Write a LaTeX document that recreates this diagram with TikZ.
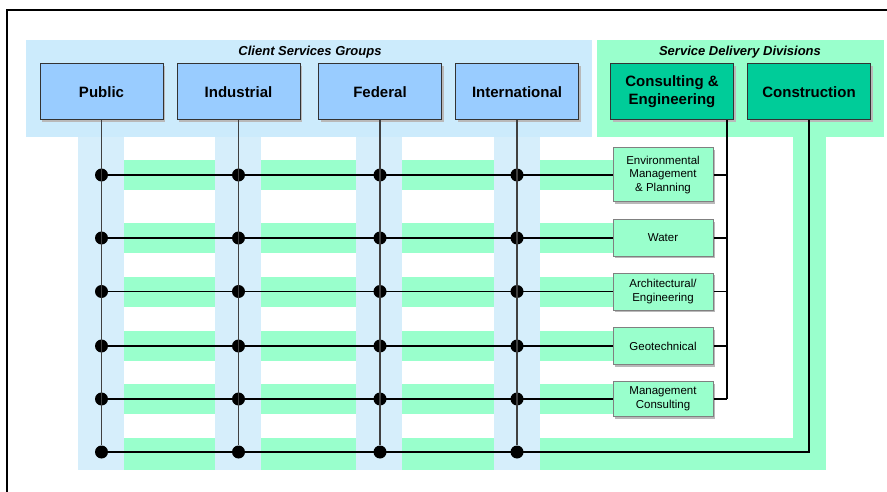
\documentclass[tikz,border=0pt]{standalone}
\usepackage{fontspec}
\setmainfont{Liberation Sans}
\usetikzlibrary{shadows}
\definecolor{panelblue}{HTML}{CCEBFC}
\definecolor{boxblue}{HTML}{99CCFF}
\definecolor{colblue}{HTML}{D6EEFB}
\definecolor{panelgreen}{HTML}{99FFCC}
\definecolor{divgreen}{HTML}{00CC99}
\tikzset{
  shade/.style={drop shadow={shadow xshift=2pt,shadow yshift=-2pt,fill=gray!55,opacity=1}},
  grpbox/.style={draw=black!80,fill=boxblue,line width=1pt,minimum width=123pt,minimum height=56pt,
    font=\fontsize{15}{18}\selectfont\bfseries,align=center,shade},
  divbox/.style={grpbox,fill=divgreen},
  secbox/.style={draw=gray,fill=panelgreen,line width=1pt,minimum width=100pt,inner sep=1pt,
    font=\fontsize{11.5}{13.7}\selectfont,align=center,shade},
  dot/.style={circle,fill=black,inner sep=0pt,minimum size=13pt},
  title/.style={font=\fontsize{13}{15}\selectfont\bfseries\itshape}
}
\begin{document}
\begin{tikzpicture}[x=1pt,y=-1pt]
\useasboundingbox (0,0) rectangle (887,492);
\fill[white] (0,0) rectangle (887,492);
\draw[line width=2.2pt] (7,492) -- (7,10) -- (887,10);
\fill[panelblue] (26,40) rectangle (592,137);
\fill[panelgreen] (597,40) rectangle (884,137);
\node[title] (cs) at (310,52) {Client Services Groups};
\node[title] (sd) at (740,52) {Service Delivery Divisions};
\foreach \y in {175,238,291.5,346,399} \fill[panelgreen] (78,\y-15) rectangle (613,\y+15);
\fill[panelgreen] (78,438) rectangle (826,470);
\fill[panelgreen] (793,137) rectangle (826,470);
\foreach \x in {101,238,378.5,517} \fill[colblue] (\x-23,137) rectangle (\x+23,470);
\node[grpbox] (pub) at (101.5,92) {Public};
\node[grpbox] (ind) at (238.5,92) {Industrial};
\node[grpbox] (fed) at (380,92) {Federal};
\node[grpbox] (intl) at (517,92) {International};
\node[divbox] (con) at (672,92) {Consulting \&\\Engineering};
\node[divbox] (cst) at (809,92) {Construction};
\node[secbox,minimum height=54pt] (s1) at (663,175) {Environmental\\Management\\\& Planning};
\node[secbox,minimum height=36pt] (s2) at (663,238) {Water};
\node[secbox,minimum height=37pt] (s3) at (663,291.5) {Architectural/\\Engineering};
\node[secbox,minimum height=37pt] (s4) at (663,346) {Geotechnical};
\node[secbox,minimum height=35pt] (s5) at (663,399) {Management\\Consulting};
\foreach \c/\x in {1/101.5,2/238.5,3/380,4/517}
  \foreach \r/\y in {1/175,2/238,3/291.5,4/346,5/399,6/452}
    \node[dot] (d-\c-\r) at (\x,\y) {};
\foreach \r in {1,...,5} \draw[line width=1.2pt] (d-1-\r) -- (s\r.west);
\foreach \b/\c in {pub/1,ind/2,fed/3,intl/4} \draw[line width=1.2pt,black!75] (\b.south) -- (d-\c-6);
\coordinate (cbus) at (727,399);
\draw[line width=1.2pt] (con.south -| cbus) -- (cbus);
\foreach \r in {1,...,5} \draw[line width=1.2pt] (s\r.east) -- (s\r.east -| cbus);
\draw[line width=1.2pt] (cst.south) |- (d-1-6);
\end{tikzpicture}
\end{document}
